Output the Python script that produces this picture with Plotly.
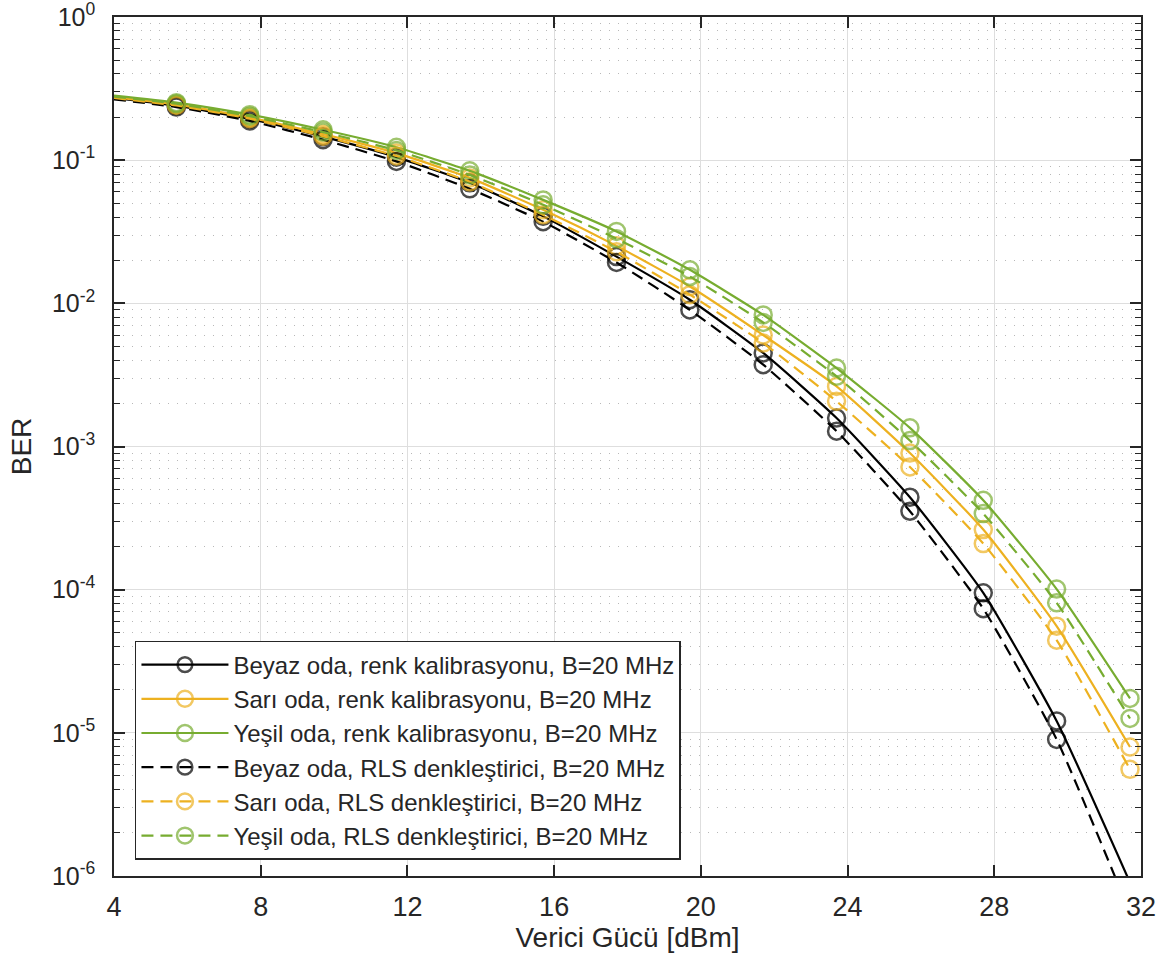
import numpy as np
import plotly.graph_objects as go

# Transmit power (dBm): line start at the axis edge, then the simulated points
power_dbm = [4.0, 5.7, 7.7, 9.7, 11.7, 13.7, 15.7, 17.7, 19.7, 21.7, 23.7, 25.7, 27.7, 29.7, 31.7]

# BER curves
ber_beyaz_kal = [0.272, 0.240, 0.194, 0.146, 0.105, 0.0695, 0.0405, 0.0212, 0.0106, 0.0045, 0.00158, 4.42e-4, 9.5e-5, 1.21e-5, 9.0e-7]
ber_sari_kal = [0.276, 0.245, 0.199, 0.152, 0.112, 0.0752, 0.0450, 0.0252, 0.0131, 0.0060, 0.00263, 9.0e-4, 2.63e-4, 5.56e-5, 7.96e-6]
ber_yesil_kal = [0.282, 0.252, 0.208, 0.163, 0.123, 0.0842, 0.0528, 0.0318, 0.01715, 0.0083, 0.00353, 0.00135, 4.21e-4, 1.01e-4, 1.74e-5]
ber_beyaz_rls = [0.266, 0.235, 0.188, 0.139, 0.098, 0.0631, 0.0372, 0.0193, 0.0090, 0.00373, 0.00128, 3.53e-4, 7.36e-5, 9.0e-6, 5.5e-7]
ber_sari_rls = [0.272, 0.241, 0.195, 0.147, 0.107, 0.0706, 0.0415, 0.0229, 0.0115, 0.00528, 0.00207, 7.2e-4, 2.10e-4, 4.44e-5, 5.56e-6]
ber_yesil_rls = [0.278, 0.248, 0.203, 0.157, 0.117, 0.0789, 0.0488, 0.0283, 0.0154, 0.00735, 0.00309, 0.00110, 3.40e-4, 8.1e-5, 1.26e-5]

series_names = [
    "Beyaz oda, renk kalibrasyonu, B=20 MHz",
    "Sarı oda, renk kalibrasyonu, B=20 MHz",
    "Yeşil oda, renk kalibrasyonu, B=20 MHz",
    "Beyaz oda, RLS denkleştirici, B=20 MHz",
    "Sarı oda, RLS denkleştirici, B=20 MHz",
    "Yeşil oda, RLS denkleştirici, B=20 MHz",
]
series_values = [ber_beyaz_kal, ber_sari_kal, ber_yesil_kal,
                 ber_beyaz_rls, ber_sari_rls, ber_yesil_rls]

x_ticks = [4, 8, 12, 16, 20, 24, 28, 32]
y_exponents = [-6, -5, -4, -3, -2, -1, 0]

BLACK = "#000000"
ORANGE = "#EDB120"
GREEN = "#77AC30"
colors = [BLACK, ORANGE, GREEN, BLACK, ORANGE, GREEN]
dashes = ["solid", "solid", "solid", "12px,7px", "12px,7px", "12px,7px"]

TEXT = "#262626"
FONT = "Liberation Sans, Arial, sans-serif"
X_MIN, X_MAX = 4, 32
Y_MIN = 1e-6
MARKER_SIZE = 17

fig = go.Figure()
for i, (name, vals) in enumerate(zip(series_names, series_values)):
    x = np.array(power_dbm)
    y = np.array(vals)
    # markers only where a simulated point lies inside the axes limits
    sizes = np.where((x > X_MIN) & (y >= Y_MIN), MARKER_SIZE, 0)
    fig.add_trace(go.Scatter(
        x=x, y=y, name=name, mode="lines+markers",
        legendgroup=f"g{i}",
        line=dict(color=colors[i], width=2.2, dash=dashes[i], shape="spline", smoothing=0.5),
        marker=dict(symbol="circle-open", size=sizes, color=colors[i],
                    line=dict(width=2.5, color=colors[i])),
    ))

fig.update_layout(
    width=1170, height=966,
    margin=dict(l=114, r=29, t=17, b=90, autoexpand=False),
    paper_bgcolor="white", plot_bgcolor="white",
    font=dict(family=FONT, color=TEXT, size=26),
    showlegend=True,
    legend=dict(
        x=0.0204, y=0.2736, xanchor="left", yanchor="top",
        bgcolor="white", bordercolor=TEXT, borderwidth=1.5,
        font=dict(size=24, color=TEXT, family=FONT),
        traceorder="grouped", tracegroupgap=0,
        itemwidth=87,
    ),
)

fig.update_xaxes(
    range=[X_MIN, X_MAX], tickvals=x_ticks, ticktext=[str(v) for v in x_ticks],
    ticks="inside", ticklen=11, tickwidth=1.5, tickcolor=TEXT,
    showline=True, linewidth=1.5, linecolor=TEXT, mirror="ticks",
    showgrid=True, gridcolor="#dedede", gridwidth=1,
    zeroline=False, ticklabelstandoff=6, ticklabeloverflow="allow", automargin=False,
    tickfont=dict(size=27, color=TEXT),
    title=dict(text="Verici Gücü [dBm]", font=dict(size=28, color=TEXT), standoff=4),
)

fig.update_yaxes(
    type="log", range=[-6, 0],
    tickvals=[10.0 ** e for e in y_exponents],
    ticktext=[f"10<sup>{e}</sup>" for e in y_exponents],
    ticks="inside", ticklen=11, tickwidth=1.5, tickcolor=TEXT,
    showline=True, linewidth=1.5, linecolor=TEXT, mirror="allticks",
    showgrid=True, gridcolor="#dedede", gridwidth=1,
    zeroline=False, ticklabelstandoff=12, ticklabeloverflow="allow", automargin=False,
    tickfont=dict(size=25, color=TEXT),
    minor=dict(ticks="inside", ticklen=6, tickwidth=1.2, tickcolor=TEXT,
               dtick="D1", showgrid=True, gridcolor="#b8b8b8",
               griddash="1px,8px", gridwidth=1.2),
    title=dict(text="BER", font=dict(size=28, color=TEXT), standoff=12),
)

fig.write_html("out.html")
